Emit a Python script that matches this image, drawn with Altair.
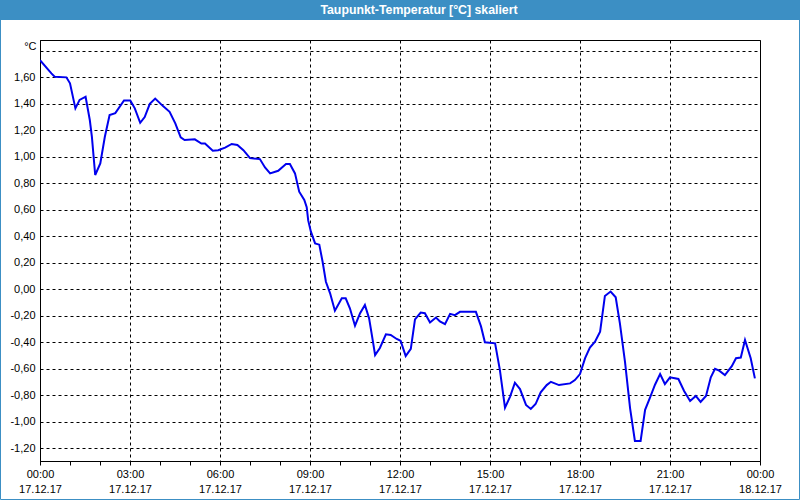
import altair as alt
import pandas as pd

title_text = "Taupunkt-Temperatur [°C] skaliert"

# hours since 17.12.17 00:00
hours = [0.00, 0.38, 0.49, 0.88, 1.00, 1.18, 1.32, 1.52, 1.66, 1.73, 1.84, 2.01, 2.16, 2.32, 2.51,
         2.80, 3.01, 3.16, 3.34, 3.49, 3.66, 3.84, 4.10, 4.32, 4.51, 4.69, 4.82, 5.16, 5.38, 5.50,
         5.76, 5.94, 6.17, 6.39, 6.58, 6.78, 7.00, 7.33, 7.50, 7.67, 7.94, 8.20, 8.33, 8.50, 8.64,
         8.81, 8.89, 8.94, 9.03, 9.17, 9.31, 9.42, 9.53, 9.67, 9.83, 10.06, 10.19, 10.33, 10.50,
         10.67, 10.83, 10.97, 11.09, 11.17, 11.33, 11.53, 11.69, 11.89, 12.02, 12.19, 12.36, 12.50,
         12.69, 12.83, 13.00, 13.20, 13.33, 13.50, 13.67, 13.83, 14.00, 14.53, 14.70, 14.83, 15.17,
         15.33, 15.50, 15.67, 15.83, 16.00, 16.20, 16.36, 16.52, 16.69, 16.89, 17.03, 17.30, 17.67,
         17.83, 18.00, 18.17, 18.33, 18.50, 18.67, 18.83, 19.02, 19.19, 19.33, 19.50, 19.67, 19.83,
         20.02, 20.17, 20.33, 20.50, 20.67, 20.83, 21.00, 21.28, 21.47, 21.67, 21.86, 22.02, 22.20,
         22.36, 22.50, 22.64, 22.83, 23.06, 23.20, 23.36, 23.50, 23.69, 23.83]

values = [1.73, 1.63, 1.605, 1.60, 1.555, 1.366, 1.43, 1.454, 1.278, 1.15, 0.863, 0.95, 1.15, 1.315, 1.33,
          1.425, 1.425, 1.366, 1.257, 1.30, 1.40, 1.44, 1.383, 1.34, 1.253, 1.147, 1.127, 1.132, 1.10, 1.10,
          1.046, 1.05, 1.07, 1.097, 1.09, 1.05, 0.99, 0.983, 0.92, 0.875, 0.895, 0.946, 0.946, 0.875, 0.737,
          0.674, 0.62, 0.52, 0.435, 0.347, 0.337, 0.208, 0.057, -0.03, -0.161, -0.068, -0.068, -0.143, -0.275,
          -0.18, -0.118, -0.219, -0.383, -0.496, -0.443, -0.34, -0.345, -0.375, -0.388, -0.504, -0.45, -0.227,
          -0.176, -0.18, -0.25, -0.213, -0.243, -0.263, -0.185, -0.195, -0.17, -0.17, -0.28, -0.40, -0.408,
          -0.61, -0.894, -0.81, -0.705, -0.753, -0.873, -0.903, -0.866, -0.778, -0.723, -0.698, -0.723, -0.71,
          -0.685, -0.64, -0.52, -0.44, -0.395, -0.32, -0.05, -0.017, -0.06, -0.257, -0.547, -0.898, -1.145,
          -1.145, -0.91, -0.82, -0.72, -0.64, -0.715, -0.664, -0.677, -0.767, -0.843, -0.805, -0.85, -0.805,
          -0.664, -0.60, -0.614, -0.647, -0.58, -0.52, -0.515, -0.383, -0.52, -0.672]

y_ticks = [-1.2, -1.0, -0.8, -0.6, -0.4, -0.2, 0.0, 0.2, 0.4, 0.6, 0.8, 1.0, 1.2, 1.4, 1.6, 1.8]
x_ticks = list(range(0, 25))

FONT = "Liberation Sans"
BLUE_BAR = "#3c8fc4"

df = pd.DataFrame({"h": hours, "v": values})
one = pd.DataFrame({"t": [title_text]})

x_label_expr = (
    "datum.value % 3 == 0 ? "
    "[((datum.value % 24) < 10 ? '0' : '') + (datum.value % 24) + ':00', "
    "datum.value >= 24 ? '18.12.17' : '17.12.17'] : ''"
)
y_label_expr = (
    "datum.value > 1.7 ? '' : "
    "replace(replace(format(datum.value, '.2f'), '.', ','), '\u2212', '-')"
)

line = alt.Chart(df).mark_line(color="#0000ee", strokeWidth=2, clip=True).encode(
    x=alt.X("h:Q", title="",
            scale=alt.Scale(domain=[0, 24], nice=False, zero=False),
            axis=alt.Axis(values=x_ticks, labelExpr=x_label_expr, labelOverlap=False,
                          labelFlush=False, labelLineHeight=15.5, labelPadding=3,
                          tickSize=4, tickColor="black", domainColor="black",
                          grid=True, gridColor="black", gridDash=[3, 3],
                          gridOpacity={"condition": {"test": "datum.value % 3 !== 0", "value": 0},
                                       "value": 1},
                          labelFont=FONT, labelFontSize=11, labelColor="black")),
    y=alt.Y("v:Q",
            scale=alt.Scale(domain=[-1.296, 1.882], nice=False, zero=False),
            axis=alt.Axis(values=y_ticks, labelExpr=y_label_expr, labelOverlap=False,
                          labelFlush=False, ticks=False, labelPadding=5,
                          domainColor="black", grid=True, gridColor="black",
                          gridDash=[3, 3], gridOpacity=1,
                          labelFont=FONT, labelFontSize=11, labelColor="black",
                          title="°C", titleAngle=0, titleAlign="right",
                          titleBaseline="middle", titleX=-4, titleY=6,
                          titleFont=FONT, titleFontSize=11, titleFontWeight="normal",
                          titleColor="black")),
)

bar = alt.Chart(one).mark_rect(color=BLUE_BAR).encode(
    x=alt.value(-40), x2=alt.value(760), y=alt.value(-40), y2=alt.value(-20)
)
frame = alt.Chart(one).mark_rect(fill="transparent", stroke=BLUE_BAR, strokeWidth=1).encode(
    x=alt.value(-39.5), x2=alt.value(759.5), y=alt.value(-40), y2=alt.value(459.5)
)
title = alt.Chart(one).mark_text(color="white", font=FONT, fontSize=12.3, fontWeight="bold",
                                 align="center", baseline="middle").encode(
    text="t:N", x=alt.value(379), y=alt.value(-30)
)

chart = alt.layer(bar, frame, line, title).properties(
    width=720, height=421,
    autosize=alt.AutoSizeParams(type="none"),
    padding={"left": 40, "top": 40, "right": 40, "bottom": 39},
    background="white",
).configure_view(stroke="black", strokeWidth=1)

chart.save("out.html", embed_options={"renderer": "svg", "actions": False})
